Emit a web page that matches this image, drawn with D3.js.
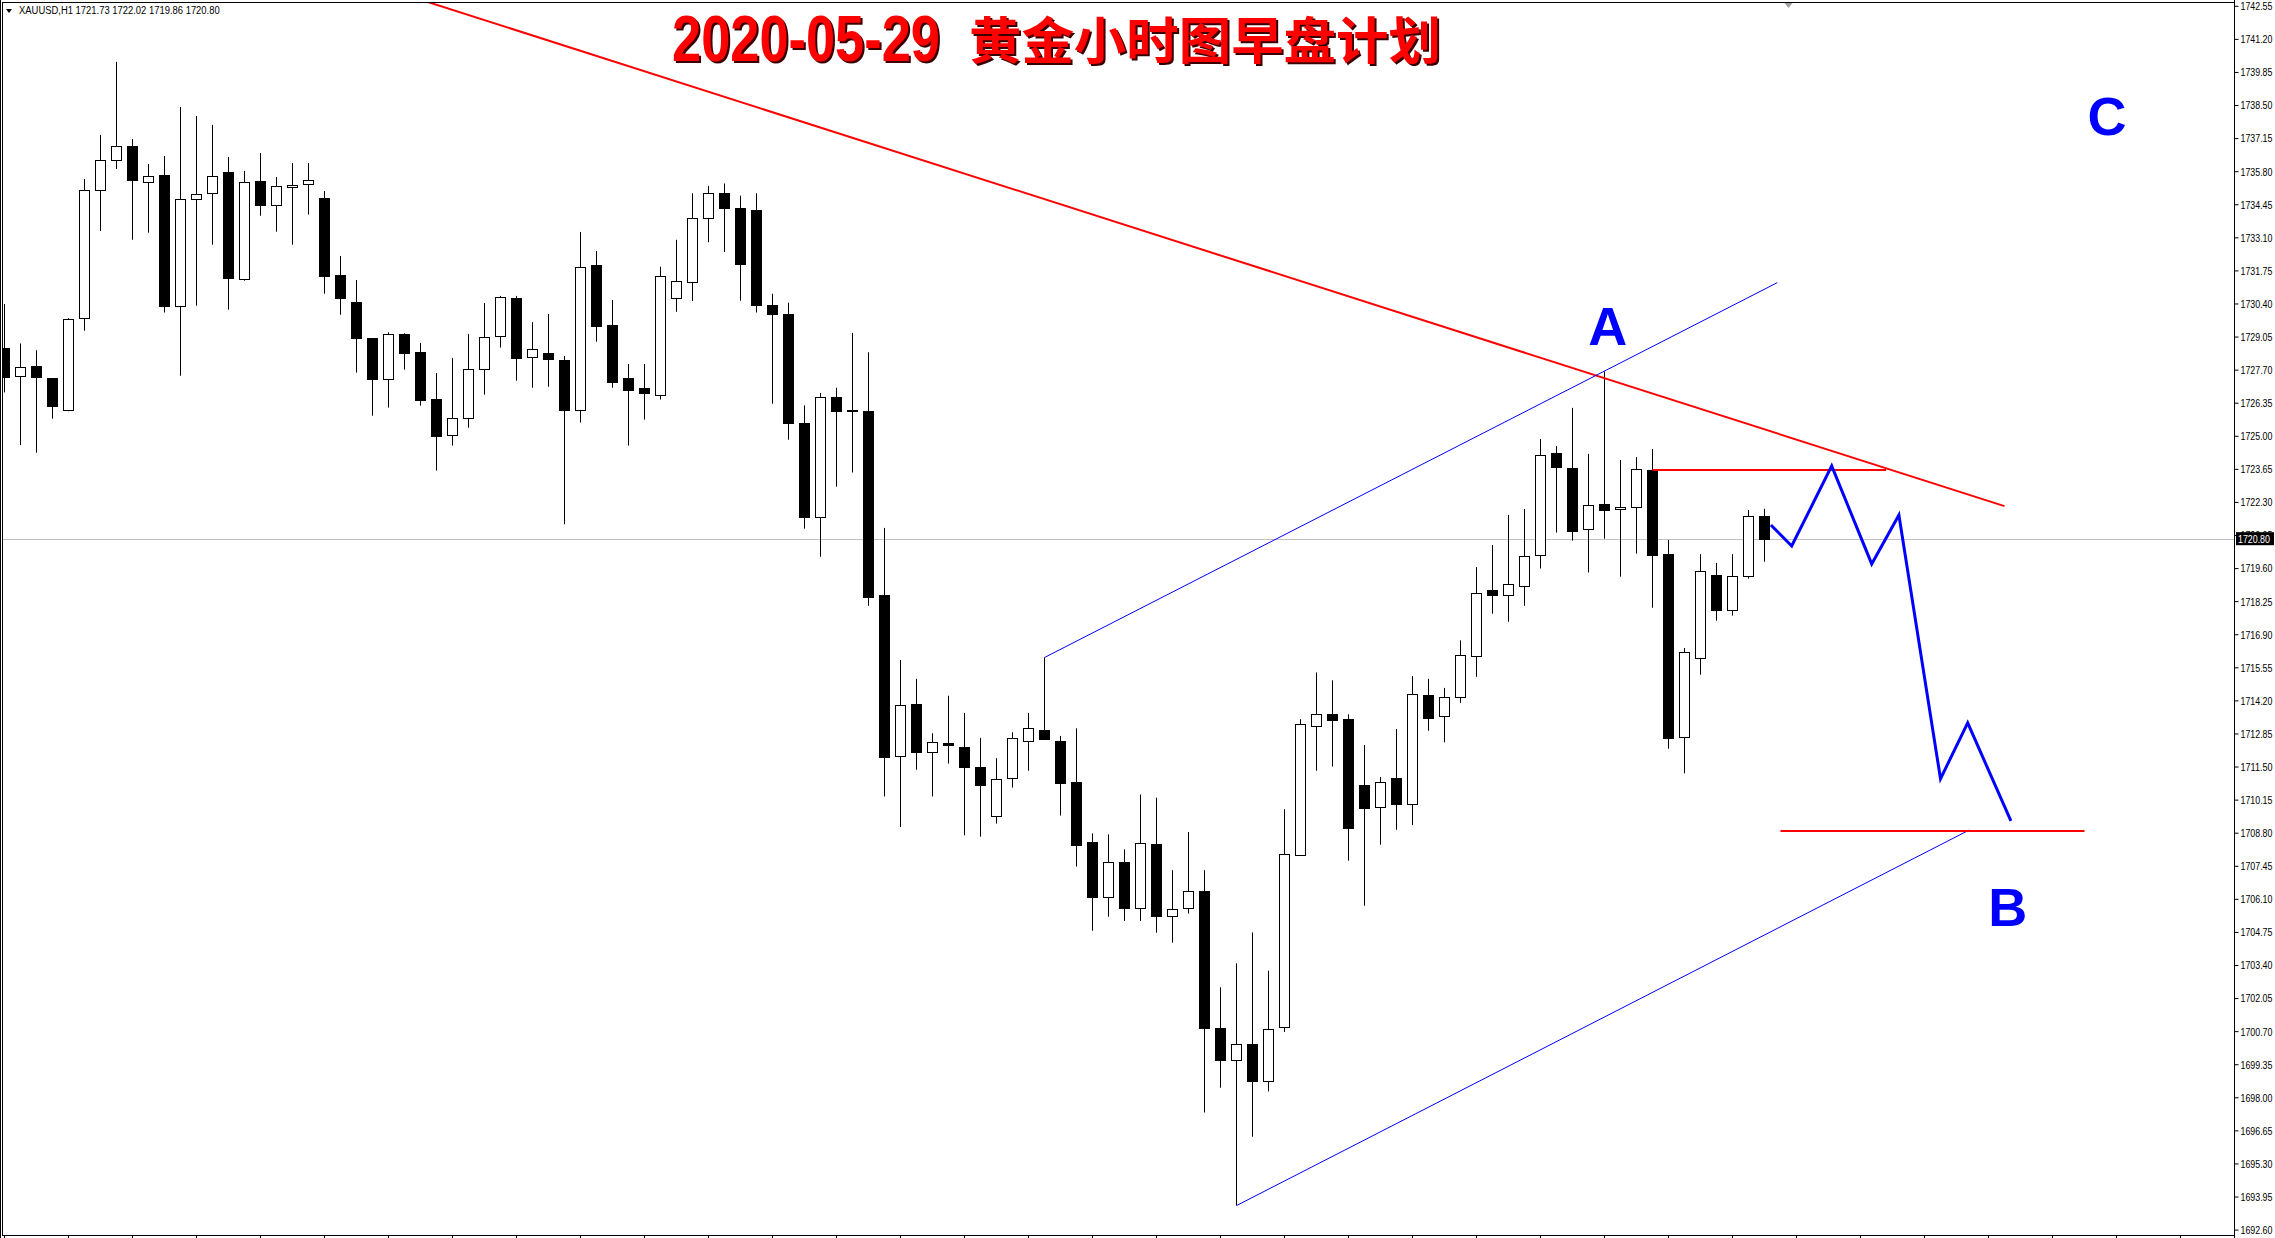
<!DOCTYPE html>
<html><head><meta charset="utf-8">
<script src="https://cdn.jsdelivr.net/npm/d3@7"></script>
<style>html,body{margin:0;padding:0;background:#fff}svg{display:block}</style>
</head><body>
<svg id="chart" width="2275" height="1238"></svg>
<script>
// ---------- DATA ----------
const opens  = [1728.57,1727.41,1727.83,1727.34,1726.04,1729.79,1735.02,1736.24,1736.81,1735.34,
1735.63,1730.27,1734.65,1734.88,1735.77,1731.41,1735.40,1734.41,1735.14,1735.26,
1734.71,1731.55,1730.45,1728.98,1727.29,1729.15,1728.41,1726.50,1725.01,1725.71,
1727.71,1729.06,1730.62,1728.20,1728.38,1728.09,1726.04,1731.97,1729.52,1727.35,
1726.95,1726.65,1730.60,1731.30,1733.90,1734.90,1734.30,1734.20,1730.34,1729.96,
1725.51,1721.68,1726.58,1726.07,1726.01,1718.49,1711.91,1714.04,1712.10,1712.47,
1712.30,1711.50,1709.51,1711.06,1712.53,1713.01,1712.56,1710.86,1708.44,1706.16,
1707.59,1705.70,1708.33,1705.42,1705.70,1706.40,1700.81,1699.50,1700.16,1698.64,
1700.85,1707.90,1713.18,1713.63,1713.43,1710.73,1709.84,1711.02,1709.94,1714.41,
1713.54,1714.32,1716.04,1718.69,1718.49,1718.85,1720.12,1724.29,1723.69,1721.18,
1722.20,1721.99,1722.07,1723.60,1720.17,1712.68,1715.90,1719.30,1717.87,1719.26,1721.73];
const highs  = [1730.38,1728.77,1728.49,1727.34,1729.80,1735.48,1737.28,1740.26,1737.11,1736.09,
1736.42,1738.42,1738.05,1737.69,1736.38,1735.81,1736.54,1735.56,1736.13,1736.13,
1734.99,1732.34,1731.36,1728.98,1729.22,1729.18,1728.79,1727.56,1728.17,1729.15,
1730.42,1730.71,1730.71,1729.64,1729.97,1728.26,1733.32,1732.54,1730.54,1727.93,
1727.93,1731.90,1733.00,1734.90,1735.20,1735.30,1734.80,1734.90,1730.80,1730.43,
1726.24,1726.75,1726.96,1729.20,1728.41,1721.24,1715.85,1715.08,1712.86,1714.39,
1713.69,1712.67,1711.84,1712.90,1713.69,1715.95,1712.75,1713.06,1708.77,1708.73,
1708.12,1710.36,1710.23,1707.27,1708.83,1707.27,1702.49,1703.47,1704.73,1703.17,
1709.76,1713.43,1715.34,1715.02,1713.63,1712.38,1711.07,1713.03,1715.19,1715.08,
1714.71,1716.65,1719.64,1720.54,1721.77,1722.01,1724.87,1724.58,1726.14,1724.26,
1727.63,1724.01,1724.13,1724.46,1720.75,1716.34,1720.17,1719.81,1720.17,1721.97,1722.02];
const lows   = [1726.77,1724.62,1724.31,1725.70,1726.00,1729.29,1733.36,1735.89,1733.00,1733.29,
1730.03,1727.45,1730.31,1732.80,1730.15,1731.33,1733.98,1733.33,1732.80,1734.03,
1730.80,1729.94,1727.58,1725.82,1726.15,1727.70,1726.23,1723.58,1724.60,1725.33,
1726.68,1728.60,1727.25,1726.96,1727.00,1721.39,1725.54,1728.84,1726.96,1724.60,
1725.66,1726.48,1730.06,1730.50,1732.90,1732.50,1730.51,1730.03,1726.31,1724.84,
1721.21,1720.06,1722.92,1723.50,1718.06,1710.28,1709.03,1711.37,1710.28,1711.62,
1708.69,1708.64,1709.17,1710.64,1711.33,1712.61,1709.50,1707.42,1704.80,1705.37,
1705.20,1705.20,1704.72,1704.31,1705.50,1697.38,1698.39,1693.58,1696.39,1698.24,
1700.67,1707.86,1711.33,1711.50,1707.66,1705.82,1708.31,1708.92,1709.11,1712.96,
1712.49,1714.10,1715.16,1717.74,1717.41,1718.06,1719.58,1721.05,1720.72,1719.42,
1720.80,1719.25,1720.19,1717.98,1712.23,1711.22,1715.25,1717.45,1717.66,1719.17,1719.86];
const closes = [1727.37,1727.79,1727.37,1726.19,1729.75,1735.02,1736.24,1736.81,1735.41,1735.59,
1730.27,1734.65,1734.86,1735.59,1731.45,1735.35,1734.43,1735.18,1735.24,1735.43,
1731.54,1730.60,1729.00,1727.29,1729.14,1728.39,1726.47,1725.01,1725.71,1727.71,
1729.02,1730.65,1728.19,1728.53,1728.15,1726.03,1731.88,1729.49,1727.21,1726.88,
1726.75,1731.51,1731.30,1733.90,1734.90,1734.30,1732.00,1730.31,1729.99,1725.50,
1721.69,1726.58,1726.02,1726.05,1718.41,1711.88,1714.00,1712.10,1712.51,1712.39,
1711.50,1710.76,1711.01,1712.68,1713.06,1712.64,1710.84,1708.27,1706.19,1707.59,
1705.70,1708.36,1705.41,1705.70,1706.40,1700.80,1699.50,1700.16,1698.64,1700.77,
1707.91,1713.23,1713.66,1713.37,1708.97,1709.78,1710.85,1709.94,1714.45,1713.46,
1714.32,1716.04,1718.60,1718.49,1718.94,1720.08,1724.20,1723.72,1721.12,1722.16,
1721.96,1722.08,1723.63,1720.15,1712.68,1716.16,1719.47,1717.86,1719.26,1721.71,1720.80];

const yTickLabels = ["1742.55","1741.20","1739.85","1738.50","1737.15","1735.80","1734.45","1733.10",
"1731.75","1730.40","1729.05","1727.70","1726.35","1725.00","1723.65","1722.30","1720.95","1719.60",
"1718.25","1716.90","1715.55","1714.20","1712.85","1711.50","1710.15","1708.80","1707.45","1706.10",
"1704.75","1703.40","1702.05","1700.70","1699.35","1698.00","1696.65","1695.30","1693.95","1692.60"];
const lastPrice = 1720.80;
const headerText = "XAUUSD,H1  1721.73 1722.02 1719.86 1720.80";
const titleDate = "2020-05-29";
const titleCn = "黄金小时图早盘计划";

// drawn objects: [bar index, price]
const redTrend      = [[26, 1742.80], [125, 1722.13]];
const blueUpper     = [[65, 1715.95], [110.8, 1731.25]];
const blueLower     = [[77, 1693.58], [122.8, 1708.91]];
const redResistance = [[103, 1723.60], [117.6, 1723.60]];
const redSupport    = [[111, 1708.87], [130, 1708.87]];
const planPath      = [[110.4,1721.36],[111.7,1720.50],[114.2,1723.77],[116.7,1719.77],
                       [118.4,1721.77],[121.0,1711.00],[122.7,1713.28],[125.4,1709.28]];
const pointLabels   = ["A","B","C"];
const pointIdx      = [100.2, 125.2, 131.4];
const pointPrice    = [1729.48, 1705.76, 1738.05];

// ---------- LAYOUT ----------
const W = 2275, H = 1238;
const plot = {left: 3, top: 3, right: 2235, bottom: 1236};
const svg = d3.select("#chart");

const x = d3.scaleLinear().domain([0, 110]).range([4.5, 4.5 + 16*110]);
const y = d3.scaleLinear().domain([1742.55, 1692.60]).range([5.8, 1229.6]);

// fit a text horizontally to a target width with a transform
function fitWidth(sel, target, ax, ay) {
  sel.each(function() {
    const len = this.getComputedTextLength();
    const k = target / len;
    d3.select(this).attr("x", 0).attr("y", 0)
      .attr("transform", `translate(${ax},${ay}) scale(${k},1)`);
  });
}

svg.append("rect").attr("width", W).attr("height", H).attr("fill", "#fff");

svg.append("defs").append("clipPath").attr("id","pc")
  .append("rect").attr("x", plot.left).attr("y", plot.top)
  .attr("width", plot.right - plot.left).attr("height", plot.bottom - plot.top);

// frame
svg.append("line").attr("x1",0.5).attr("x2",0.5).attr("y1",0).attr("y2",H).attr("stroke","#000");
svg.append("rect").attr("x", plot.left - 0.5).attr("y", plot.top - 0.5)
  .attr("width", plot.right - plot.left).attr("height", plot.bottom - plot.top)
  .attr("fill","none").attr("stroke","#000");

const g = svg.append("g").attr("clip-path","url(#pc)");

// current price line
g.append("line").attr("x1", plot.left).attr("x2", plot.right)
  .attr("y1", Math.round(y(lastPrice)) + 0.5).attr("y2", Math.round(y(lastPrice)) + 0.5)
  .attr("stroke", "#c0c0c0");

// candles
const bars = d3.range(opens.length).map(i => ({i, o: opens[i], h: highs[i], l: lows[i], c: closes[i]}));
const cg = g.append("g");
cg.selectAll("line.w").data(bars).join("line").attr("class","w")
  .attr("x1", d => x(d.i)).attr("x2", d => x(d.i))
  .attr("y1", d => y(d.h)).attr("y2", d => y(d.l))
  .attr("stroke","#000").attr("stroke-width",1);
cg.selectAll("rect.b").data(bars).join("rect").attr("class","b")
  .attr("x", d => x(d.i) - 5)
  .attr("y", d => Math.round(y(Math.max(d.o, d.c))) + 0.5)
  .attr("width", 10)
  .attr("height", d => Math.max(1, Math.round(Math.abs(y(d.o) - y(d.c)))))
  .attr("fill", d => d.c >= d.o ? "#fff" : "#000")
  .attr("stroke", "#000").attr("stroke-width", 1);

// drawn lines
const ln = d3.line().x(d => x(d[0])).y(d => y(d[1]));
g.append("path").attr("d", ln(redTrend)).attr("fill","none").attr("stroke","#ff0000").attr("stroke-width",2);
g.append("path").attr("d", ln(blueUpper)).attr("fill","none").attr("stroke","#0000ff").attr("stroke-width",1);
g.append("path").attr("d", ln(blueLower)).attr("fill","none").attr("stroke","#0000ff").attr("stroke-width",1);
g.append("path").attr("d", ln(redResistance)).attr("fill","none").attr("stroke","#ff0000").attr("stroke-width",2);
g.append("path").attr("d", ln(redSupport)).attr("fill","none").attr("stroke","#ff0000").attr("stroke-width",2);
g.append("path").attr("d", ln(planPath)).attr("fill","none").attr("stroke","#0000ff")
  .attr("stroke-width",3).attr("stroke-linejoin","miter");

// point labels
g.selectAll("text.pl").data(pointLabels).join("text").attr("class","pl")
  .attr("x", (d,k) => x(pointIdx[k])).attr("y", (d,k) => y(pointPrice[k]))
  .attr("text-anchor","middle").attr("dominant-baseline","central")
  .attr("font-family","Liberation Sans, Arial, sans-serif").attr("font-weight","bold")
  .attr("font-size", 54).attr("fill","#0000ff").text(d => d);

// title with shadow
const tg = svg.append("g");
[["#3a0000", 2], ["#ff0000", 0]].forEach(([col, off]) => {
  tg.append("text")
    .attr("font-family","Liberation Sans, Arial, sans-serif").attr("font-weight","bold")
    .attr("font-size", 64).attr("fill", col).text(titleDate)
    .call(fitWidth, 268, 672 + off, 61 + off);
  tg.append("text")
    .attr("font-family","Noto Sans CJK SC, sans-serif").attr("font-weight","bold")
    .attr("font-size", 50).attr("fill", col).text(titleCn)
    .call(fitWidth, 472, 969 + off, 59 + off);
});

// header
svg.append("path").attr("d","M6,9 L12,9 L9,13 Z").attr("fill","#000");
svg.append("text")
  .attr("font-family","Liberation Sans, Arial, sans-serif").attr("font-size", 11)
  .attr("fill","#000").text(headerText)
  .call(fitWidth, 201, 19, 14);

// shift marker
svg.append("path").attr("d", `M${x(111.5)-4},3 L${x(111.5)+4},3 L${x(111.5)},8 Z`).attr("fill","#a0a0a0");

// right axis
const axisG = svg.append("g").attr("transform", `translate(${plot.right - 0.5},0)`);
const axis = d3.axisRight(y).tickValues(yTickLabels.map(Number)).tickSize(4).tickPadding(2)
  .tickFormat((d,k) => yTickLabels[k]);
axisG.call(axis);
axisG.select(".domain").attr("stroke","#000").attr("d", `M0,0V${H}`);
axisG.selectAll(".tick line").attr("stroke","#000");
axisG.selectAll(".tick text").attr("font-family","Liberation Sans, Arial, sans-serif")
  .attr("font-size", 11).attr("fill","#000").attr("dy", null)
  .attr("dominant-baseline","central")
  .call(fitWidth, 32, 6, 0);

// current price tag
const py = y(lastPrice);
svg.append("rect").attr("x", plot.right + 1).attr("y", py - 6.5).attr("width", 38).attr("height", 13).attr("fill","#000");
svg.append("text").attr("dominant-baseline","central")
  .attr("font-family","Liberation Sans, Arial, sans-serif").attr("font-size", 11)
  .attr("fill","#fff").text(lastPrice.toFixed(2))
  .call(fitWidth, 32, plot.right + 3, py);

// bottom time ticks
const bt = d3.range(0, 140, 4);
svg.append("g").selectAll("line").data(bt).join("line")
  .attr("x1", d => x(d)).attr("x2", d => x(d))
  .attr("y1", plot.bottom).attr("y2", H).attr("stroke","#000");
</script>
</body></html>
